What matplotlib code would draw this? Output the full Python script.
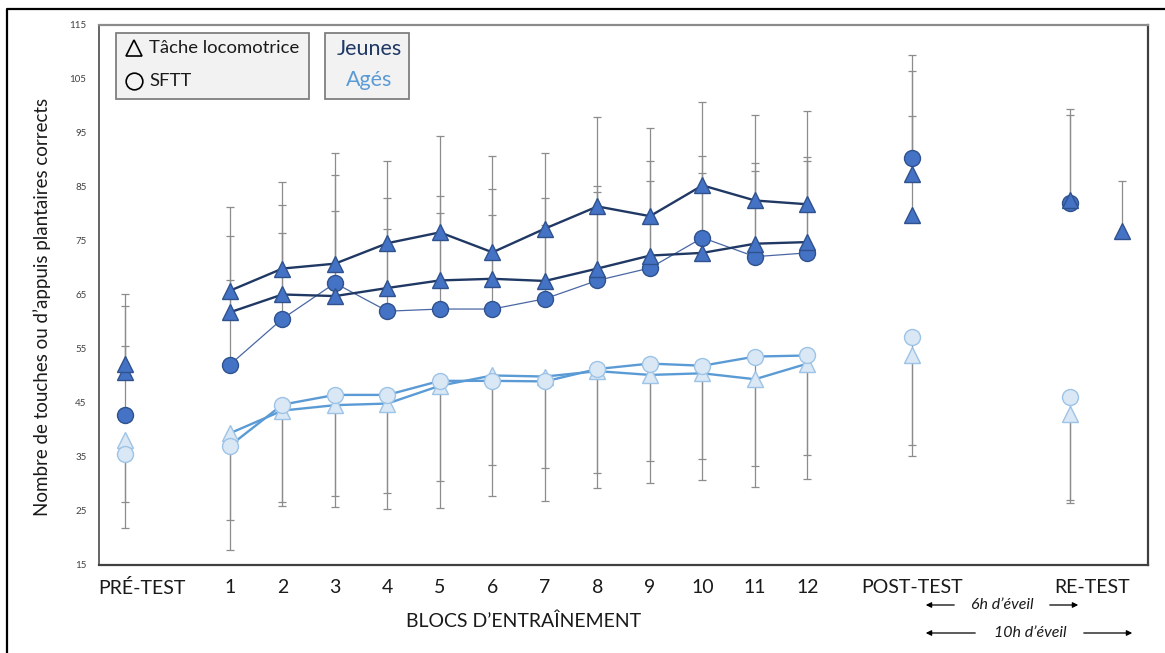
import matplotlib
matplotlib.use("Agg")
import matplotlib.pyplot as plt
from matplotlib.patches import Rectangle
from matplotlib.lines import Line2D
import numpy as np

plt.rcParams['font.family'] = ['Lato', 'DejaVu Sans']

# ---------------- data ----------------
blocks = list(range(1, 13))
x_pre, x_post, x_re, x_re10 = -1, 14, 17, 18

tick_labels = ["PRÉ-TEST", "1", "2", "3", "4", "5", "6", "7", "8", "9", "10", "11", "12", "POST-TEST", "RE-TEST"]

# Jeunes - tâche locomotrice (série A, haute)
jA_pre, jA_post, jA_re = 52.2, 87.4, 82.5
jA_blocks = [65.8, 69.9, 70.8, 74.6, 76.6, 72.9, 77.3, 81.4, 79.6, 85.3, 82.5, 81.8]
jA_cap_pre, jA_cap_post, jA_cap_re = 65.1, 106.5, 99.4
jA_cap_blocks = [81.3, 85.9, 91.3, 89.9, 94.5, 90.8, 91.3, 98.0, 95.9, 100.8, 98.3, 99.0]

# Jeunes - tâche locomotrice (série B)
jB_pre, jB_post, jB_re10 = 50.8, 79.9, 76.8
jB_blocks = [61.8, 65.1, 64.8, 66.3, 67.7, 68.0, 67.6, 69.9, 72.3, 72.8, 74.5, 74.8]
jB_cap_pre, jB_cap_post, jB_cap_re10 = 62.9, 98.1, 86.1
jB_cap_blocks = [75.9, 81.7, 80.5, 83.0, 83.3, 84.7, 83.0, 85.2, 89.8, 87.5, 89.5, 90.6]

# Jeunes - SFTT
jC_pre, jC_post, jC_re = 42.8, 90.3, 82.0
jC_blocks = [52.1, 60.6, 67.2, 62.0, 62.4, 62.4, 64.3, 67.7, 70.0, 75.6, 72.1, 72.8]
jC_cap_pre, jC_cap_post, jC_cap_re = 55.6, 109.4, 98.4
jC_cap_blocks = [67.7, 76.4, 87.2, 77.3, 80.1, 79.8, 78.0, 84.0, 86.1, 90.7, 87.9, 89.8]

# Agés - tâche locomotrice
aD_pre, aD_post, aD_re = 38.2, 53.9, 43.0
aD_blocks = [39.4, 43.6, 44.6, 44.9, 48.2, 50.1, 49.9, 50.9, 50.2, 50.5, 49.4, 52.3]
aD_cap_pre, aD_cap_post, aD_cap_re = 26.6, 35.2, 26.4
aD_cap_blocks = [23.3, 25.9, 25.8, 25.3, 25.5, 33.5, 32.9, 29.3, 30.1, 30.7, 29.5, 30.9]

# Agés - SFTT
aE_pre, aE_post, aE_re = 35.5, 57.3, 46.2
aE_blocks = [37.1, 44.7, 46.5, 46.5, 49.1, 49.1, 49.0, 51.3, 52.3, 51.9, 53.6, 53.8]
aE_cap_pre, aE_cap_post, aE_cap_re = 21.9, 37.2, 27.1
aE_cap_blocks = [17.7, 26.7, 27.8, 28.3, 30.5, 27.7, 26.9, 32.1, 34.2, 34.7, 33.4, 35.3]

# ---------------- styles ----------------
J_FILL, J_EDGE = "#4472c4", "#2f528f"
J_LINE, J_LINE_C = "#203864", "#4a67a3"
A_FILL, A_EDGE, A_LINE = "#dae8f6", "#9dc3e6", "#5b9bd5"
ERR = "#8c8c8c"
MS = 11.5

W, H = 1165, 653
fig = plt.figure(figsize=(W / 100, H / 100), dpi=100)
def fx(px): return px / W
def fy(py): return 1 - py / H

ax = fig.add_axes([fx(99), fy(565), fx(1148) - fx(99), fy(25) - fy(565)])
ax.set_xlim(-1.495, 18.486)
ax.set_ylim(15, 115)

def plot_series(xs_all, ys_all, caps_all, line_x, line_y, marker, fill, edge, lcol, lw, up):
    xs_all = np.array(xs_all, float)
    ys_all = np.array(ys_all, float)
    caps_all = np.array(caps_all, float)
    if up:
        yerr = [np.zeros_like(ys_all), caps_all - ys_all]
    else:
        yerr = [ys_all - caps_all, np.zeros_like(ys_all)]
    ax.errorbar(xs_all, ys_all, yerr=yerr, fmt='none', ecolor=ERR, elinewidth=0.9,
                capsize=2.9, capthick=0.9, zorder=1)
    ax.plot(line_x, line_y, color=lcol, lw=lw, zorder=2, solid_capstyle='round')
    ax.plot(xs_all, ys_all, linestyle='none', marker=marker, ms=MS, mfc=fill, mec=edge,
            mew=1.0, zorder=3)

# Agés
plot_series([x_pre] + blocks + [x_post, x_re], [aD_pre] + aD_blocks + [aD_post, aD_re],
            [aD_cap_pre] + aD_cap_blocks + [aD_cap_post, aD_cap_re],
            blocks, aD_blocks, '^', A_FILL, A_EDGE, A_LINE, 1.7, False)
plot_series([x_pre] + blocks + [x_post, x_re], [aE_pre] + aE_blocks + [aE_post, aE_re],
            [aE_cap_pre] + aE_cap_blocks + [aE_cap_post, aE_cap_re],
            blocks, aE_blocks, 'o', A_FILL, A_EDGE, A_LINE, 1.7, False)
# Jeunes
plot_series([x_pre] + blocks + [x_post], [jC_pre] + jC_blocks + [jC_post],
            [jC_cap_pre] + jC_cap_blocks + [jC_cap_post],
            blocks, jC_blocks, 'o', J_FILL, J_EDGE, J_LINE_C, 0.9, True)
plot_series([x_re], [jC_re], [jC_cap_re], [], [], 'o', J_FILL, J_EDGE, J_LINE_C, 0.9, True)
plot_series([x_pre] + blocks + [x_post, x_re10], [jB_pre] + jB_blocks + [jB_post, jB_re10],
            [jB_cap_pre] + jB_cap_blocks + [jB_cap_post, jB_cap_re10],
            blocks, jB_blocks, '^', J_FILL, J_EDGE, J_LINE, 1.7, True)
plot_series([x_pre] + blocks + [x_post, x_re], [jA_pre] + jA_blocks + [jA_post, jA_re],
            [jA_cap_pre] + jA_cap_blocks + [jA_cap_post, jA_cap_re],
            blocks, jA_blocks, '^', J_FILL, J_EDGE, J_LINE, 1.7, True)

# axes styling
tick_pos = [-0.68] + blocks + [14.0, 17.42]
ax.set_xticks(tick_pos)
ax.set_xticklabels(tick_labels, fontsize=14, color="#1a1a1a")
ax.tick_params(axis='x', length=0, pad=10)
ax.set_yticks(np.arange(15, 116, 10))
ax.tick_params(axis='y', length=0, pad=9, labelsize=7, labelcolor="#404040")
ax.spines['left'].set_color("#595959"); ax.spines['left'].set_linewidth(1.3)
ax.spines['bottom'].set_color("#404040"); ax.spines['bottom'].set_linewidth(1.6)
ax.spines['top'].set_color("#8c8c8c"); ax.spines['top'].set_linewidth(1.6)
ax.spines['right'].set_color("#404040"); ax.spines['right'].set_linewidth(1.6)

ax.set_xlabel("BLOCS D’ENTRAÎNEMENT", fontsize=14, color="#1a1a1a")
ax.xaxis.set_label_coords((524 - 99) / 1049, -(621 - 565) / 540)
ax.xaxis.label.set_va('center')
ax.set_ylabel("Nombre de touches ou d’appuis plantaires corrects", fontsize=13.5, color="#1a1a1a")
ax.yaxis.set_label_coords((42 - 99) / 1049, 1 - (307 - 25) / 540)
ax.yaxis.label.set_va('center')

# legend boxes
fig.patches.append(Rectangle((fx(116), fy(99)), fx(309) - fx(116), fy(33) - fy(99),
                             transform=fig.transFigure, facecolor="#f2f2f2",
                             edgecolor="#7f7f7f", lw=1.3, zorder=5))
fig.patches.append(Rectangle((fx(325), fy(99)), fx(409) - fx(325), fy(33) - fy(99),
                             transform=fig.transFigure, facecolor="#f2f2f2",
                             edgecolor="#7f7f7f", lw=1.3, zorder=5))
fig.lines.append(Line2D([fx(134)], [fy(48)], transform=fig.transFigure, marker='^', ms=12,
                        mfc='none', mec='black', mew=1.2, zorder=6))
fig.lines.append(Line2D([fx(134)], [fy(81)], transform=fig.transFigure, marker='o', ms=12,
                        mfc='none', mec='black', mew=1.2, zorder=6))
fig.text(fx(149), fy(48), "Tâche locomotrice", fontsize=13.3, va='center', ha='left',
         color="#1a1a1a", zorder=6)
fig.text(fx(149), fy(81), "SFTT", fontsize=13.3, va='center', ha='left',
         color="#1a1a1a", zorder=6)
fig.text(fx(369), fy(49), "Jeunes", fontsize=15.5, va='center', ha='center',
         color="#1f3864", zorder=6)
fig.text(fx(369), fy(80), "Agés", fontsize=15.5, va='center', ha='center',
         color="#5b9bd5", zorder=6)

# wake-time annotations
def arrow(x0, x1, y):
    fig.add_artist(matplotlib.patches.FancyArrowPatch((fx(x0), fy(y)), (fx(x1), fy(y)),
                   transform=fig.transFigure, arrowstyle='-|>', mutation_scale=8,
                   color='black', lw=0.9))
arrow(957, 923, 605); arrow(1047, 1081, 605)
arrow(978, 923, 633); arrow(1081, 1135, 633)
fig.text(fx(1002), fy(605), "6h d’éveil", fontsize=11.5, style='italic', ha='center',
         va='center', color="#1a1a1a")
fig.text(fx(1030), fy(633), "10h d’éveil", fontsize=11.5, style='italic', ha='center',
         va='center', color="#1a1a1a")

# outer frame (left and top)
fig.lines.append(Line2D([fx(7), fx(7), fx(1165)], [fy(653), fy(9), fy(9)],
                        transform=fig.transFigure, color='black', lw=1.6))

fig.savefig("out.png", dpi=100)
